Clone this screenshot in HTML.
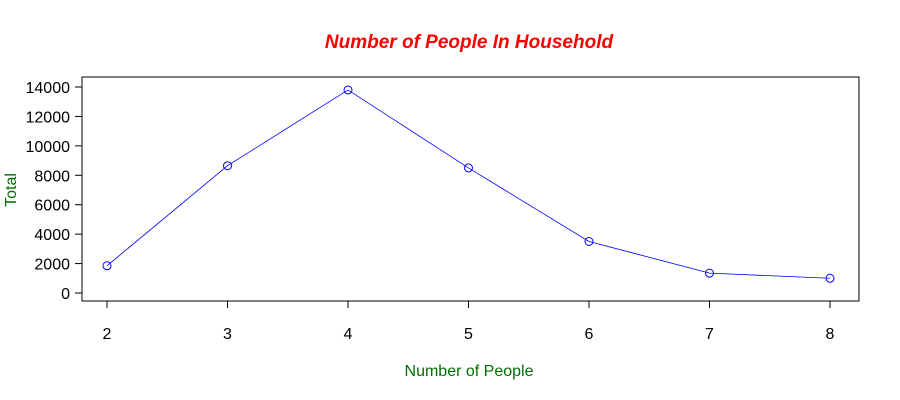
<!DOCTYPE html>
<html><head><meta charset="utf-8"><style>
body{margin:0;background:#fff;}
svg{display:block;font-family:"Liberation Sans",Arial,sans-serif;}
</style></head><body>
<svg id="chart" width="900" height="400">
<text x="469" y="48" text-anchor="middle" font-size="19" font-weight="bold" font-style="italic" fill="#ff0000">Number of People In Household</text>
<text x="469" y="376" text-anchor="middle" font-size="16" fill="#007000">Number of People</text>
<text transform="translate(16,190) rotate(-90)" text-anchor="middle" font-size="16" fill="#007000">Total</text>
<rect x="82" y="77" width="777" height="224" fill="none" stroke="#000" stroke-width="1"/>
<g id="axes"></g>
<g id="series"></g>
</svg>
<script>
const categories=[2,3,4,5,6,7,8];
const totals=[1850,8650,13800,8500,3500,1350,1000];
const yTicks=[0,2000,4000,6000,8000,10000,12000,14000];
const NS="http://www.w3.org/2000/svg";
function xs(v){return 107+(v-2)*(830-107)/6;}
function ys(v){return 293-v*(293-87)/14000;}
function mk(t,a,p){const e=document.createElementNS(NS,t);for(const k in a)e.setAttribute(k,a[k]);p.appendChild(e);return e;}
const ax=document.getElementById('axes');
mk('line',{x1:82,x2:82,y1:ys(0),y2:ys(14000),stroke:'#000'},ax);
yTicks.forEach(v=>{
 const l=mk('line',{x1:75,x2:82,y1:ys(v),y2:ys(v),stroke:'#000'},ax);
 
 
 const t=mk('text',{x:70,y:ys(v)+6,'text-anchor':'end','font-size':16},ax);
 t.textContent=v;
 
 
});
mk('line',{x1:xs(2),x2:xs(8),y1:301,y2:301,stroke:'#000'},ax);
categories.forEach(c=>{
 const l=mk('line',{x1:xs(c),x2:xs(c),y1:301,y2:308,stroke:'#000'},ax);
 
 
 const t=mk('text',{x:xs(c),y:339,'text-anchor':'middle','font-size':16},ax);
 t.textContent=c;
 
 
});
const s=document.getElementById('series');
const pl=mk('polyline',{points:categories.map((c,i)=>xs(c)+','+ys(totals[i])).join(' '),fill:'none',stroke:'#0000ff','stroke-width':0.8},s);


categories.forEach((c,i)=>{
 const p=mk('circle',{cx:xs(c),cy:ys(totals[i]),r:4,fill:'none',stroke:'#0000ff','stroke-width':1},s);
 
 
});
</script>
</body></html>
